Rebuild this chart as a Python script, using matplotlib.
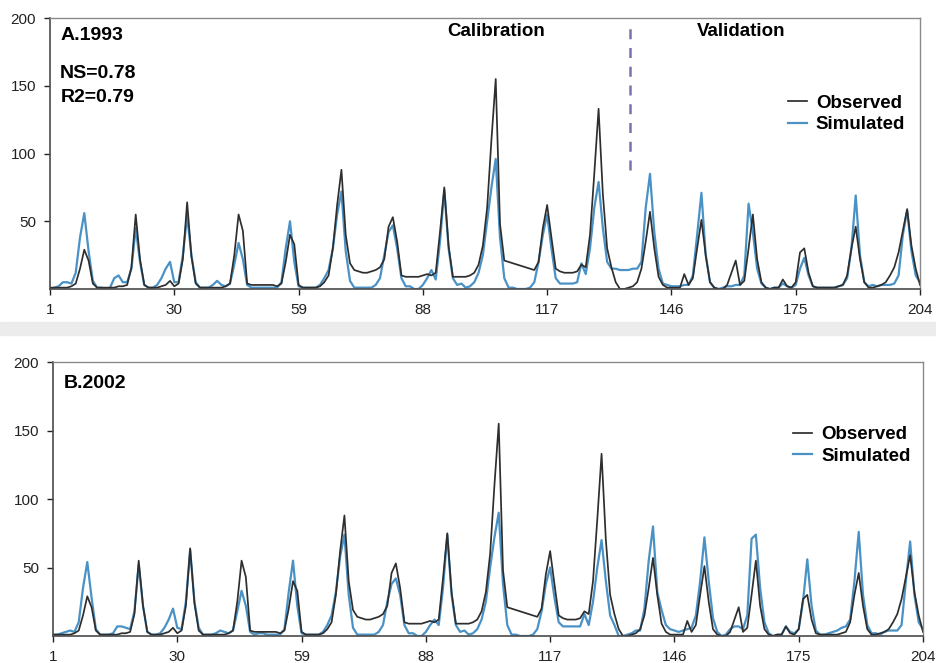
import numpy as np
import matplotlib
matplotlib.use("Agg")
import matplotlib.pyplot as plt
from matplotlib.patches import Rectangle

plt.rcParams['font.family'] = ['Liberation Sans', 'DejaVu Sans']

# Monthly series, 204 months (one row = one year)
months = np.arange(1, 205)
x_ticks = [1, 30, 59, 88, 117, 146, 175, 204]
y_ticks = [50, 100, 150, 200]

observed = [
    1, 1, 1, 1, 1, 2, 4, 15, 29, 21, 4, 1,
    1, 1, 1, 1, 2, 2, 3, 16, 55, 22, 3, 1,
    1, 1, 2, 3, 6, 2, 4, 22, 64, 24, 4, 1,
    1, 1, 1, 1, 1, 2, 4, 25, 55, 43, 4, 3,
    3, 3, 3, 3, 3, 2, 4, 20, 40, 33, 3, 1,
    1, 1, 1, 2, 5, 10, 30, 62, 88, 40, 19, 14,
    13, 12, 12, 13, 14, 16, 22, 46, 53, 35, 10, 9,
    9, 9, 9, 10, 11, 10, 12, 42, 75, 32, 9, 9,
    9, 9, 10, 12, 18, 32, 60, 110, 155, 48, 21, 20,
    19, 18, 17, 16, 15, 14, 20, 45, 62, 38, 15, 13,
    12, 12, 12, 13, 18, 16, 40, 85, 133, 70, 30, 16,
    5, 0, 0, 1, 2, 5, 15, 35, 57, 30, 9, 3,
    1, 1, 1, 1, 11, 3, 8, 30, 51, 25, 5, 1,
    0, 0, 3, 12, 21, 3, 6, 30, 55, 22, 5, 1,
    0, 1, 1, 7, 2, 1, 5, 27, 30, 12, 2, 1,
    1, 1, 1, 1, 2, 3, 10, 30, 46, 22, 5, 1,
    1, 2, 3, 5, 10, 16, 27, 43, 59, 32, 15, 3,
]

simulated_1993 = [
    0, 1, 2, 5, 5, 4, 12, 38, 56, 28, 6, 1,
    1, 0, 1, 8, 10, 5, 5, 15, 45, 20, 3, 1,
    1, 3, 8, 15, 20, 5, 5, 25, 54, 25, 5, 1,
    1, 1, 3, 6, 3, 2, 4, 18, 34, 22, 3, 1,
    1, 1, 1, 1, 1, 1, 5, 30, 50, 20, 2, 1,
    1, 1, 1, 3, 8, 14, 30, 55, 72, 28, 6, 1,
    1, 1, 1, 1, 3, 8, 25, 42, 47, 30, 8, 2,
    2, 0, 0, 3, 8, 14, 7, 35, 73, 30, 8, 3,
    4, 1, 2, 5, 12, 25, 50, 75, 96, 38, 8, 1,
    1, 0, 0, 0, 1, 5, 20, 40, 55, 30, 8, 4,
    4, 4, 4, 5, 19, 11, 30, 60, 79, 45, 20, 15,
    15, 14, 14, 14, 15, 15, 20, 60, 85, 42, 15, 4,
    3, 2, 2, 2, 3, 3, 10, 40, 71, 25, 5, 1,
    0, 1, 2, 2, 3, 3, 10, 63, 42, 15, 4, 1,
    0, 1, 1, 4, 2, 1, 3, 15, 23, 10, 2, 1,
    1, 1, 1, 1, 2, 3, 8, 30, 69, 25, 5, 2,
    3, 2, 3, 3, 3, 4, 10, 40, 58, 28, 10, 5,
]

simulated_2002 = [
    1, 1, 2, 3, 4, 3, 10, 35, 54, 28, 5, 1,
    1, 1, 2, 7, 7, 6, 5, 18, 52, 22, 3, 1,
    1, 2, 6, 12, 20, 6, 5, 25, 63, 25, 6, 1,
    1, 1, 2, 4, 3, 2, 4, 18, 33, 22, 3, 1,
    2, 2, 1, 1, 1, 1, 5, 32, 55, 22, 2, 1,
    1, 1, 1, 3, 8, 15, 32, 58, 74, 30, 6, 1,
    1, 1, 1, 1, 3, 8, 25, 38, 42, 30, 8, 2,
    2, 0, 0, 3, 8, 12, 8, 35, 74, 30, 8, 3,
    4, 1, 2, 5, 12, 25, 50, 72, 90, 38, 8, 1,
    1, 0, 0, 0, 1, 5, 18, 38, 50, 28, 10, 7,
    7, 7, 7, 7, 16, 8, 25, 50, 70, 40, 15, 8,
    0, 0, 1, 2, 4, 4, 20, 55, 80, 32, 19, 8,
    5, 4, 3, 4, 5, 6, 15, 40, 72, 40, 13, 3,
    0, 1, 5, 7, 7, 5, 15, 71, 74, 35, 10, 2,
    0, 1, 1, 7, 3, 2, 5, 25, 56, 22, 4, 1,
    1, 2, 3, 4, 6, 7, 12, 40, 76, 30, 8, 2,
    2, 1, 3, 4, 4, 4, 8, 40, 69, 30, 10, 5,
]

split_month = 136.4   # calibration / validation boundary

OBS_COLOR = '#2e2e2e'
SIM_COLOR = '#4a92c6'


def draw_panel(ax, sim, title, legend_anchor):
    s, = ax.plot(months, sim, color=SIM_COLOR, lw=1.6, label='Simulated')
    o, = ax.plot(months, observed, color=OBS_COLOR, lw=1.25, label='Observed')
    ax.set_xlim(1, 204)
    ax.set_ylim(0, 200)
    ax.set_xticks(x_ticks)
    ax.set_yticks(y_ticks)
    ax.tick_params(direction='out', length=4, width=1, labelsize=11,
                   pad=6, colors='#222222')
    for side in ['left', 'bottom']:
        ax.spines[side].set_color('#4a4a4a')
        ax.spines[side].set_linewidth(1.2)
    for side in ['top', 'right']:
        ax.spines[side].set_color('#8a8a8a')
        ax.spines[side].set_linewidth(1.0)
    ax.text(0.012, title[1], title[0], transform=ax.transAxes,
            fontsize=14, fontweight='bold', va='center', ha='left')
    ax.legend([o, s], ['Observed', 'Simulated'], loc='center left',
              bbox_to_anchor=legend_anchor, frameon=False,
              prop={'weight': 'bold', 'size': 13.5},
              handlelength=1.0, handletextpad=0.5, labelspacing=0.25,
              borderpad=0, borderaxespad=0)


fig = plt.figure(figsize=(9.36, 6.63), dpi=100)

# light grey strip between the two screenshots
fig.patches.append(Rectangle((0, 1 - 335 / 663), 1, 13 / 663,
                             transform=fig.transFigure, color='#ececec', zorder=0))

ax1 = fig.add_axes([50 / 936, 1 - 289 / 663, 870 / 936, 271 / 663])
draw_panel(ax1, simulated_1993, ('A.1993', 0.934), (0.848, 0.646))
ax1.text(0.0115, 0.797, 'NS=0.78', transform=ax1.transAxes,
         fontsize=14, fontweight='bold', va='center', ha='left')
ax1.text(0.0125, 0.708, 'R2=0.79', transform=ax1.transAxes,
         fontsize=14, fontweight='bold', va='center', ha='left')
ax1.text(105, 190, 'Calibration', fontsize=13.5, fontweight='bold',
         ha='center', va='center')
ax1.text(162.3, 190, 'Validation', fontsize=13.5, fontweight='bold',
         ha='center', va='center')
ax1.vlines(split_month, 88, 193, colors='#7a72b0',
           linestyles=(0, (4, 3.5)), linewidth=1.8)

ax2 = fig.add_axes([53 / 936, 1 - 636 / 663, 870 / 936, 274 / 663])
draw_panel(ax2, simulated_2002, ('B.2002', 0.921), (0.851, 0.695))

fig.savefig('out.png', dpi=100)
